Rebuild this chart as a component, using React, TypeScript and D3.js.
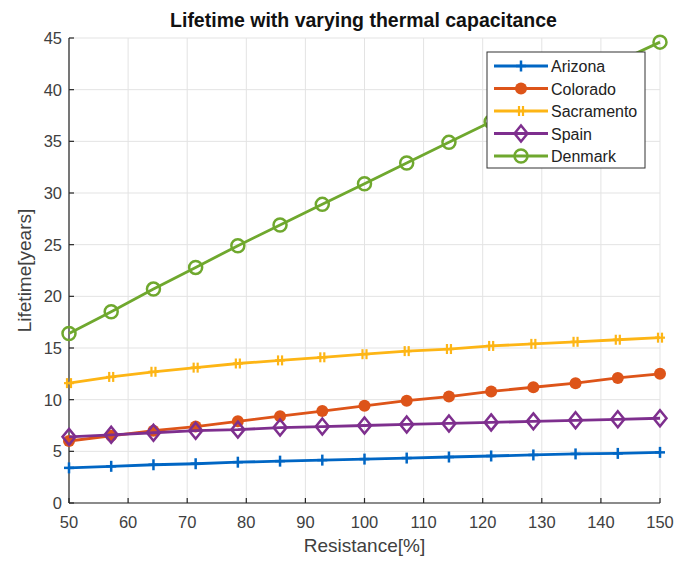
import React from 'react';
import * as d3 from 'd3';

const resistance = [50, 57.14, 64.29, 71.43, 78.57, 85.71, 92.86, 100, 107.14, 114.29, 121.43, 128.57, 135.71, 142.86, 150];
const arizona = [3.4, 3.55, 3.7, 3.8, 3.95, 4.05, 4.15, 4.25, 4.35, 4.45, 4.55, 4.65, 4.75, 4.8, 4.9];
const colorado = [6.0, 6.5, 7.0, 7.4, 7.9, 8.4, 8.9, 9.4, 9.9, 10.3, 10.8, 11.2, 11.6, 12.1, 12.5];
const sacramento = [11.6, 12.2, 12.7, 13.1, 13.5, 13.8, 14.1, 14.4, 14.7, 14.9, 15.2, 15.4, 15.6, 15.8, 16.0];
const spain = [6.4, 6.6, 6.8, 7.0, 7.1, 7.3, 7.4, 7.5, 7.6, 7.7, 7.8, 7.9, 8.0, 8.1, 8.2];
const denmark = [16.4, 18.5, 20.7, 22.8, 24.9, 26.9, 28.9, 30.9, 32.9, 34.9, 36.9, 38.9, 40.8, 42.7, 44.6];

const xTicks = [50, 60, 70, 80, 90, 100, 110, 120, 130, 140, 150];
const yTicks = [0, 5, 10, 15, 20, 25, 30, 35, 40, 45];

type Marker = 'plus' | 'dot' | 'star' | 'diamond' | 'circle';
const series: { name: string; values: number[]; color: string; marker: Marker }[] = [
  { name: 'Arizona', values: arizona, color: '#0066c4', marker: 'plus' },
  { name: 'Colorado', values: colorado, color: '#dd5419', marker: 'dot' },
  { name: 'Sacramento', values: sacramento, color: '#fdb515', marker: 'star' },
  { name: 'Spain', values: spain, color: '#7e2f8e', marker: 'diamond' },
  { name: 'Denmark', values: denmark, color: '#6fa82e', marker: 'circle' },
];

const W = 688;
const H = 562;
const margin = { left: 69, right: 28, top: 38, bottom: 59 };
const font = 'Arial, "Liberation Sans", Helvetica, sans-serif';

const MarkerShape: React.FC<{ type: Marker; x: number; y: number; color: string }> = ({ type, x, y, color }) => {
  switch (type) {
    case 'plus':
      return (
        <g stroke={color} strokeWidth={2.5}>
          <line x1={x - 5} x2={x + 5} y1={y} y2={y} />
          <line x1={x} x2={x} y1={y - 5.5} y2={y + 5.5} />
        </g>
      );
    case 'dot':
      return <circle cx={x} cy={y} r={6} fill={color} />;
    case 'star':
      return (
        <g stroke={color} strokeWidth={2.2}>
          <line x1={x - 5} x2={x + 5} y1={y} y2={y} />
          <line x1={x - 2} x2={x - 2} y1={y - 5} y2={y + 5} />
          <line x1={x + 2} x2={x + 2} y1={y - 5} y2={y + 5} />
        </g>
      );
    case 'diamond':
      return (
        <path d={`M${x},${y - 8}L${x + 6.5},${y}L${x},${y + 8}L${x - 6.5},${y}Z`} fill="none" stroke={color} strokeWidth={2.5} />
      );
    case 'circle':
      return <circle cx={x} cy={y} r={6.5} fill="none" stroke={color} strokeWidth={2.5} />;
  }
};

export default function App() {
  const x = d3.scaleLinear().domain([50, 150]).range([margin.left, W - margin.right]);
  const y = d3.scaleLinear().domain([0, 45]).range([H - margin.bottom, margin.top]);
  const line = d3.line<number>().x((_, i) => x(resistance[i])).y(d => y(d));
  const x0 = x.range()[0], x1 = x.range()[1];
  const y0 = y.range()[0], y1 = y.range()[1];

  const lg = { x: 487, y: 52, w: 158, h: 116, row: 22.5 };

  return (
    <svg width={W} height={H} style={{ position: 'absolute', left: 0, top: 0, background: '#fff' }} fontFamily={font}>
      {/* grid */}
      <g stroke="#e3e3e3" strokeWidth={1}>
        {xTicks.map(t => <line key={'gx' + t} x1={x(t)} x2={x(t)} y1={y1} y2={y0} />)}
        {yTicks.map(t => <line key={'gy' + t} x1={x0} x2={x1} y1={y(t)} y2={y(t)} />)}
      </g>

      {/* axes */}
      <g stroke="#262626" strokeWidth={1.2}>
        <line x1={x0} x2={x1} y1={y0} y2={y0} />
        <line x1={x0} x2={x0} y1={y0} y2={y1} />
        {xTicks.map(t => <line key={'tx' + t} x1={x(t)} x2={x(t)} y1={y0} y2={y0 - 5} />)}
        {yTicks.map(t => <line key={'ty' + t} x1={x0} x2={x0 + 5} y1={y(t)} y2={y(t)} />)}
      </g>
      <g fill="#404040" fontSize={16.5}>
        {xTicks.map(t => (
          <text key={'lx' + t} x={x(t)} y={y0 + 25} textAnchor="middle">{t}</text>
        ))}
        {yTicks.map(t => (
          <text key={'ly' + t} x={x0 - 7} y={y(t) + 6} textAnchor="end">{t}</text>
        ))}
      </g>
      <text x={(x0 + x1) / 2} y={y0 + 49} textAnchor="middle" fontSize={19} fill="#404040">Resistance[%]</text>
      <text transform={`translate(31,${(y0 + y1) / 2}) rotate(-90)`} textAnchor="middle" fontSize={19} fill="#404040">Lifetime[years]</text>
      <text x={(x0 + x1) / 2 - 1} y={27} textAnchor="middle" fontSize={19.5} fontWeight="bold" fill="#111">Lifetime with varying thermal capacitance</text>

      {/* series */}
      {series.map(s => (
        <g key={s.name}>
          <path d={line(s.values) || ''} fill="none" stroke={s.color} strokeWidth={2.8} />
          {s.values.map((v, i) => (
            <MarkerShape key={i} type={s.marker} x={x(resistance[i])} y={y(v)} color={s.color} />
          ))}
        </g>
      ))}

      {/* legend */}
      <g>
        <rect x={lg.x} y={lg.y} width={lg.w} height={lg.h} fill="#fff" stroke="#333" strokeWidth={1} />
        {series.map((s, i) => {
          const cy = lg.y + 14 + i * lg.row;
          return (
            <g key={'lg' + s.name}>
              <line x1={lg.x + 7} x2={lg.x + 61} y1={cy} y2={cy} stroke={s.color} strokeWidth={2.8} />
              <MarkerShape type={s.marker} x={lg.x + 34} y={cy} color={s.color} />
              <text x={lg.x + 64} y={cy + 6} fontSize={16} fill="#222">{s.name}</text>
            </g>
          );
        })}
      </g>
    </svg>
  );
}
